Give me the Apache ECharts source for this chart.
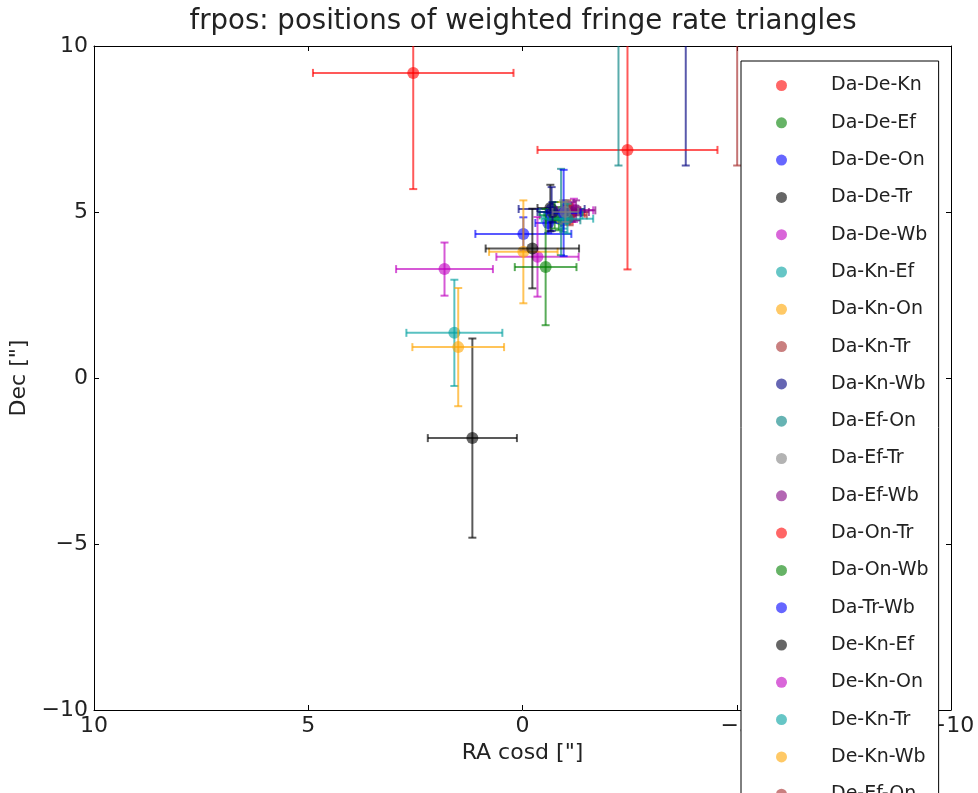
<!DOCTYPE html>
<html>
<head>
<meta charset="utf-8">
<script src="https://cdn.jsdelivr.net/npm/echarts@6/dist/echarts.min.js"></script>
<style>
html, body { margin: 0; padding: 0; background: #fff; }
#main { width: 978px; height: 793px; }
</style>
</head>
<body>
<div id="main"></div>
<script>
// triangle names, in plotting order
var triangles = ['Da-De-Kn', 'Da-De-Ef', 'Da-De-On', 'Da-De-Tr', 'Da-De-Wb', 'Da-Kn-Ef', 'Da-Kn-On',
	'Da-Kn-Tr', 'Da-Kn-Wb', 'Da-Ef-On', 'Da-Ef-Tr', 'Da-Ef-Wb', 'Da-On-Tr', 'Da-On-Wb', 'Da-Tr-Wb',
	'De-Kn-Ef', 'De-Kn-On', 'De-Kn-Tr', 'De-Kn-Wb', 'De-Ef-On', 'De-Ef-Tr', 'De-Ef-Wb', 'De-On-Tr',
	'De-On-Wb', 'De-Tr-Wb', 'Kn-Ef-On', 'Kn-Ef-Tr', 'Kn-Ef-Wb', 'Kn-On-Tr', 'Kn-On-Wb', 'Kn-Tr-Wb',
	'Ef-On-Tr', 'Ef-On-Wb', 'Ef-Tr-Wb', 'On-Tr-Wb'];
// RA cosd ["]
var raVal = [-1.1, -0.85, -0.6, -0.65, -1.2, -0.95, -0.9, -1.05, -0.68, -0.95, -1.0, -1.15, 2.55, -0.75, -0.02,
	1.17, -0.35, 1.59, -0.02, -1.1, -3.81, -0.9, -0.95, -1.25, -2.45, -0.54, -0.96, -0.23, 1.82, -1.05, 1.5,
	-5.01, -0.7, -2.24, -1.0];
// Dec ["]
var decVal = [4.95, 4.8, 4.67, 5.12, 5.05, 4.9, 5.0, 5.05, 5.09, 4.75, 5.1, 5.0, 9.19, 4.9, 4.34,
	-1.81, 3.65, 1.36, 3.8, 4.9, 12.6, 5.0, 5.0, 5.05, 6.87, 3.34, 4.97, 3.9, 3.28, 4.8, 0.93,
	12.6, 5.0, 12.6, 5.0];
var raErr = [0.35, 0.3, 0.3, 0.3, 0.45, 0.45, 0.3, 0.3, 0.77, 0.4, 0.3, 0.4, 2.34, 0.35, 1.12,
	1.04, 0.96, 1.12, 0.8, 0.4, 0.6, 0.5, 0.35, 0.45, 2.1, 0.72, 0.4, 1.09, 1.13, 0.6, 1.07,
	0.6, 0.35, 0.6, 0.3];
var decErr = [0.3, 0.35, 0.3, 0.7, 0.35, 0.4, 0.3, 0.3, 0.66, 0.35, 0.25, 0.3, 3.5, 0.4, 0.5,
	3.0, 1.2, 1.6, 1.55, 0.3, 6.2, 1.3, 0.35, 0.3, 3.6, 1.75, 1.3, 1.2, 0.8, 0.45, 1.78,
	6.2, 0.3, 6.2, 0.3];
var ticks = [-10, -5, 0, 5, 10];

//colour cycle
var palette = ['#ff0000', '#008000', '#0000ff', '#000000', '#c000c0', '#00a0a0',
	'#ffa500', '#a52a2a', '#000080', '#008080', '#808080', '#800080'];

function rgba(hex, a) {
	var n = parseInt(hex.slice(1), 16);
	return 'rgba(' + (n >> 16 & 255) + ',' + (n >> 8 & 255) + ',' + (n & 255) + ',' + a + ')';
}

var FONT = '"DejaVu Sans", sans-serif';
var chart = echarts.init(document.getElementById('main'), null, { renderer: 'canvas' });

function renderItem(params, api) {
	var x = api.value(0), y = api.value(1), ex = api.value(2), ey = api.value(3);
	var c = api.coord([x, y]);
	var l = api.coord([x - ex, y]), r = api.coord([x + ex, y]);
	var t = api.coord([x, y + ey]), b = api.coord([x, y - ey]);
	var col = palette[params.seriesIndex % palette.length];
	var ls = { stroke: rgba(col, 0.65), lineWidth: 2 };
	var cap = 4;
	return {
		type: 'group',
		children: [
			{ type: 'line', shape: { x1: l[0], y1: l[1], x2: r[0], y2: r[1] }, style: ls },
			{ type: 'line', shape: { x1: t[0], y1: t[1], x2: b[0], y2: b[1] }, style: ls },
			{ type: 'line', shape: { x1: l[0], y1: l[1] - cap, x2: l[0], y2: l[1] + cap }, style: ls },
			{ type: 'line', shape: { x1: r[0], y1: r[1] - cap, x2: r[0], y2: r[1] + cap }, style: ls },
			{ type: 'line', shape: { x1: t[0] - cap, y1: t[1], x2: t[0] + cap, y2: t[1] }, style: ls },
			{ type: 'line', shape: { x1: b[0] - cap, y1: b[1], x2: b[0] + cap, y2: b[1] }, style: ls },
			{ type: 'circle', shape: { cx: c[0], cy: c[1], r: 6 }, style: { fill: rgba(col, 0.6) } }
		]
	};
}

var series = triangles.map(function(name, i) {
	return {
		name: name,
		type: 'custom',
		clip: true,
		xAxisIndex: 0,
		yAxisIndex: 0,
		itemStyle: { color: rgba(palette[i % palette.length], 0.6) },
		renderItem: renderItem,
		data: [[raVal[i], decVal[i], raErr[i], decErr[i]]]
	};
});

function minus(v) {
	return String(v).replace('-', '\u2212');
}

var axisBase = {
	type: 'value',
	min: ticks[0],
	max: ticks[ticks.length - 1],
	interval: 5,
	splitLine: { show: false },
	axisLine: { show: true, onZero: false, lineStyle: { color: '#000', width: 1 } },
	axisTick: { show: true, inside: true, length: 5, lineStyle: { color: '#000' } }
};

var option = {
	backgroundColor: '#fff',
	animation: false,
	title: {
		text: 'frpos: positions of weighted fringe rate triangles',
		left: 518,
		top: 3,
		textAlign: 'center',
		textStyle: { fontFamily: FONT, fontSize: 27.6, fontWeight: 'normal', color: '#222' }
	},
	grid: { left: 94, right: 27, top: 46, bottom: 83, containLabel: false, outerBoundsMode: 'none' },
	legend: {
		orient: 'vertical',
		left: 741,
		top: 61,
		height: 1400,
		padding: [15, 10, 15, 35],
		itemGap: 18.3,
		itemWidth: 11,
		itemHeight: 11,
		icon: 'circle',
		selectedMode: false,
		backgroundColor: '#fff',
		borderColor: '#000',
		borderWidth: 1,
		borderRadius: 0,
		textStyle: { fontFamily: FONT, fontSize: 19, color: '#222', padding: [0, 0, 0, 39] },
		data: triangles
	},
	xAxis: [
		Object.assign({}, axisBase, {
			position: 'bottom',
			inverse: true,
			name: 'RA cosd ["]',
			nameLocation: 'middle',
			nameGap: 30,
			nameTextStyle: { fontFamily: FONT, fontSize: 22, color: '#222' },
			axisLabel: { fontFamily: FONT, fontSize: 22, color: '#222', margin: 5, formatter: minus }
		}),
		Object.assign({}, axisBase, {
			position: 'top',
			inverse: true,
			axisLabel: { show: false }
		})
	],
	yAxis: [
		Object.assign({}, axisBase, {
			position: 'left',
			name: 'Dec ["]',
			nameLocation: 'middle',
			nameGap: 61,
			nameTextStyle: { fontFamily: FONT, fontSize: 22, color: '#222' },
			axisLabel: { fontFamily: FONT, fontSize: 22, color: '#222', margin: 6, formatter: minus }
		}),
		Object.assign({}, axisBase, {
			position: 'right',
			axisLabel: { show: false }
		})
	],
	series: series
};

chart.setOption(option);
</script>
</body>
</html>
